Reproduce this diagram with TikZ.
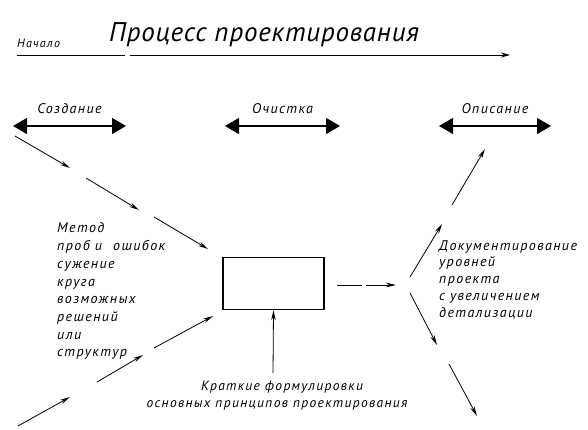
\documentclass[tikz,border=0pt]{standalone}
\usepackage{fontspec}
\usepackage{tikz}
\usetikzlibrary{arrows.meta, positioning}
\newfontfamily\gostfont{PT Sans}[LetterSpace=10]
\newfontfamily\titlefont{PT Sans}[LetterSpace=3]

\begin{document}
\begin{tikzpicture}[x=1pt, y=-1pt,
  lbl/.style={font=\gostfont\itshape\fontsize{14}{16}\selectfont, inner sep=0pt},
  flow/.style={line width=0.8pt, -{Stealth[length=10pt,width=4.5pt]}},
  phase/.style={line width=1.1pt, {Triangle[length=14pt,width=16pt]}-{Triangle[length=14pt,width=16pt]}}]
\useasboundingbox (0,0) rectangle (588,430);

% Vertical positions
\def\yPhase{126}
\def\yLine{55}

% Title and time line
\node[lbl, font=\titlefont\itshape\fontsize{27}{30}\selectfont, anchor=base] (title) at (264,42) {Процесс проектирования};
\node[lbl, font=\gostfont\itshape\fontsize{12}{14}\selectfont, anchor=base west] (start) at (17,48) {Начало};
\coordinate (lineA) at (17,\yLine);
\coordinate (lineB) at (510,\yLine);
\draw[line width=0.9pt, dash pattern=on 108pt off 5pt on 500pt, -{Stealth[length=9pt,width=5pt]}] (lineA) -- (lineB);

% Phases
\foreach \name/\xl/\xr in {Создание/13/126, Очистка/225/340, Описание/439/551} {
  \coordinate (\name-l) at (\xl,\yPhase);
  \coordinate (\name-r) at (\xr,\yPhase);
  \draw[phase] (\name-l) -- (\name-r);
  \node[lbl, anchor=base] (\name) at ({(\xl+\xr)/2},114) {\name};
}

% Central block
\node[draw, line width=1.4pt, minimum width=101pt, minimum height=52pt, inner sep=0pt] (core) at (273.5,283.5) {};

% Incoming arrows, upper row
\foreach \i/\xa/\ya/\xb/\yb in {1/15/136/70/168, 2/86/178/139/210, 3/154/217/208/249} {
  \coordinate (ua\i) at (\xa,\ya);
  \coordinate (ub\i) at (\xb,\yb);
  \draw[flow] (ua\i) -- (ub\i);
}
% Incoming arrows, lower row
\foreach \i/\xa/\ya/\xb/\yb in {1/18/426/70/397, 2/97/382/143/355, 3/154/348/213/316} {
  \coordinate (la\i) at (\xa,\ya);
  \coordinate (lb\i) at (\xb,\yb);
  \draw[flow] (la\i) -- (lb\i);
}

% Left text
\foreach \t [count=\i from 0] in {Метод, проб и\hspace{6pt} ошибок, сужение, круга, возможных, решений, или, структур}
  \node[lbl, anchor=base west] (left\i) at (57,233+\i*17.7) {\t};

% Principles
\coordinate (prin) at (273,373);
\draw[flow] (prin) -- (core.south);
\node[lbl, font=\gostfont\itshape\fontsize{13.5}{16}\selectfont, anchor=base] (prin1) at (282,390) {Краткие формулировки};
\node[lbl, font=\gostfont\itshape\fontsize{13.5}{16}\selectfont, anchor=base] (prin2) at (277,407) {основных принципов проектирования};

% Outgoing
\coordinate (outA) at (337,285);
\coordinate (outB) at (396,285);
\draw[flow, dash pattern=on 25pt off 4pt on 40pt] (outA) -- (outB);

\foreach \i/\xa/\ya/\xb/\yb in {1/410/277/442/224, 2/452/205/485/149, 3/410/293/437/345, 4/449/364/477/416} {
  \coordinate (ra\i) at (\xa,\ya);
  \coordinate (rb\i) at (\xb,\yb);
  \draw[flow] (ra\i) -- (rb\i);
}

% Right text
\foreach \t [count=\i from 0] in {Документирование, уровней, проекта, с увеличением, детализации}
  \node[lbl, anchor=base west] (right\i) at (439,250+\i*16.8) {\t};

\end{tikzpicture}
\end{document}
